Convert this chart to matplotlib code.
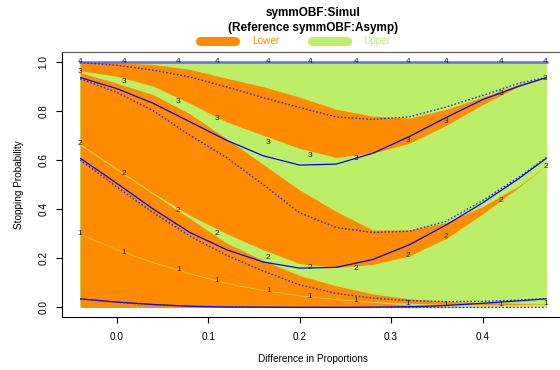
import matplotlib
matplotlib.use("Agg")
import matplotlib.pyplot as plt
from matplotlib.lines import Line2D

plt.rcParams['font.family'] = ['Liberation Sans', 'DejaVu Sans']

# ---- data -------------------------------------------------------------
xs = [-0.04, 0.0, 0.04, 0.08, 0.12, 0.16, 0.20, 0.24, 0.28, 0.32, 0.36, 0.40, 0.44, 0.47]

# design symmOBF:Simul  (b_k = cum_{k-1} + lower_k ; c_k = cumulative stop prob)
s_b1 = [0.298, 0.235, 0.183, 0.138, 0.098, 0.070, 0.048, 0.033, 0.021, 0.010, 0.004, 0.002, 0.001, 0.000]
s_c1 = [0.300, 0.237, 0.185, 0.140, 0.100, 0.072, 0.050, 0.035, 0.024, 0.017, 0.012, 0.011, 0.012, 0.015]
s_b2 = [0.661, 0.561, 0.461, 0.362, 0.262, 0.192, 0.130, 0.088, 0.055, 0.035, 0.025, 0.020, 0.017, 0.016]
s_c2 = [0.665, 0.565, 0.465, 0.375, 0.300, 0.235, 0.178, 0.163, 0.175, 0.210, 0.280, 0.380, 0.490, 0.578]
s_b3 = [0.955, 0.912, 0.865, 0.787, 0.687, 0.582, 0.478, 0.390, 0.315, 0.315, 0.345, 0.410, 0.495, 0.578]
s_c3 = [0.963, 0.940, 0.900, 0.830, 0.755, 0.700, 0.647, 0.610, 0.627, 0.668, 0.740, 0.825, 0.900, 0.933]
s_b4 = [0.998, 0.995, 0.988, 0.968, 0.932, 0.898, 0.855, 0.806, 0.778, 0.770, 0.805, 0.855, 0.908, 0.933]
s_c4 = [1.0] * 14

# reference symmOBF:Asymp
a_b1 = [0.034, 0.021, 0.011, 0.005, 0.002, 0.001, 0.0005, 0.0003, 0.0002, 0.0001, 0.0, 0.0, 0.0, 0.0]
a_c1 = [0.035, 0.022, 0.012, 0.005, 0.002, 0.001, 0.0005, 0.0005, 0.001, 0.003, 0.008, 0.017, 0.027, 0.035]
a_b2 = [0.600, 0.490, 0.385, 0.290, 0.213, 0.148, 0.092, 0.057, 0.038, 0.028, 0.024, 0.025, 0.030, 0.036]
a_c2 = [0.607, 0.505, 0.400, 0.305, 0.235, 0.185, 0.160, 0.163, 0.195, 0.255, 0.335, 0.425, 0.525, 0.607]
a_b3 = [0.930, 0.875, 0.800, 0.700, 0.610, 0.500, 0.385, 0.325, 0.305, 0.310, 0.350, 0.435, 0.530, 0.610]
a_c3 = [0.935, 0.890, 0.830, 0.755, 0.680, 0.617, 0.579, 0.583, 0.627, 0.695, 0.772, 0.845, 0.900, 0.935]
a_b4 = [0.996, 0.985, 0.965, 0.937, 0.897, 0.853, 0.813, 0.775, 0.765, 0.775, 0.815, 0.862, 0.912, 0.935]
a_c4 = [1.0] * 14

# analysis-number labels
lab_x = [-0.0405, 0.0080, 0.0673, 0.1094, 0.1658, 0.2112, 0.2615, 0.3184, 0.3600, 0.4201, 0.4688]
lab1 = [0.301, 0.2255, 0.153, 0.108, 0.069, 0.045, 0.028, 0.018, 0.011, 0.011, 0.015]
lab2 = [0.668, 0.544, 0.396, 0.301, 0.205, 0.163, 0.159, 0.213, 0.290, 0.436, 0.574]
lab3 = [0.960, 0.919, 0.838, 0.767, 0.670, 0.617, 0.607, 0.679, 0.756, 0.870, 0.933]
lab4 = [1.0] * 11

x_ticks = [0.0, 0.1, 0.2, 0.3, 0.4]
y_ticks = [0.0, 0.2, 0.4, 0.6, 0.8, 1.0]

ORANGE = '#FF8C00'
GREEN = '#BCEE68'
BLUE = '#0000FF'

# ---- figure -------------------------------------------------------------
W, H = 560, 370
fig = plt.figure(figsize=(W / 100, H / 100), dpi=100)
left, right, top, bottom = 61.5, 565.2, 51.7, 317.3
ax = fig.add_axes([left / W, 1 - bottom / H, (right - left) / W, (bottom - top) / H])

zero = [0.0] * len(xs)
# upper (green) everywhere, lower (orange) bands on top
ax.fill_between(xs, zero, s_c4, color=GREEN, lw=0)
for lo, hi in [(zero, s_b1), (s_c1, s_b2), (s_c2, s_b3), (s_c3, s_b4)]:
    ax.fill_between(xs, lo, hi, color=ORANGE, lw=0)

# reference lines
for c in [a_c1, a_c2, a_c3]:
    ax.plot(xs, c, color=BLUE, lw=0.9, solid_capstyle='butt')
ax.plot(xs, a_c4, color='#6a6ae6', lw=1.8)
for b in [a_b1, a_b2, a_b3, a_b4]:
    ax.plot(xs, b, color='#2020ff', lw=1.0, linestyle=(0, (1.1, 1.5)))

for k, lab in enumerate([lab1, lab2, lab3, lab4], start=1):
    for x, y in zip(lab_x, lab):
        ax.text(x, y, str(k), ha='center', va='center', fontsize=6, color='#222222')

ax.set_xlim(-0.0604, 0.4904)
ax.set_ylim(-0.04, 1.04)
ax.set_xticks(x_ticks)
ax.set_xticklabels([f'{v:.1f}' for v in x_ticks])
ax.set_yticks(y_ticks)
ax.set_yticklabels([f'{v:.1f}' for v in y_ticks], rotation=90, va='center')
ax.tick_params(direction='out', length=4.3, width=0.8, labelsize=7.2, colors='black')
ax.tick_params(axis='x', pad=6)
ax.tick_params(axis='y', pad=5)
for sp in ax.spines.values():
    sp.set_linewidth(0.8)
    sp.set_color('black')
ax.spines['top'].set_color('#555555')

cx = (left + right) / 2 / W
fig.text(cx, 1 - 16 / H, 'symmOBF:Simul', ha='center', va='baseline',
         fontsize=8.5, fontweight='bold')
fig.text(cx, 1 - 30.5 / H, '(Reference symmOBF:Asymp)', ha='center', va='baseline',
         fontsize=8.5, fontweight='bold')

# legend in top margin
ly = 1 - 40.5 / H
fig.add_artist(Line2D([200 / W, 235 / W], [ly, ly], color=ORANGE, lw=6.5,
                      solid_capstyle='round'))
fig.text(265.5 / W, ly, 'Lower', color=ORANGE, fontsize=7.2, ha='center', va='center')
fig.add_artist(Line2D([312 / W, 347 / W], [ly, ly], color=GREEN, lw=6.5,
                      solid_capstyle='round'))
fig.text(377 / W, ly, 'Upper', color=GREEN, fontsize=7.2, ha='center', va='center')

fig.text(cx, 1 - 359 / H, 'Difference in Proportions', ha='center', va='center', fontsize=7.2)
fig.text(19 / W, 1 - 184.5 / H, 'Stopping Probability', ha='center', va='center',
         rotation=90, fontsize=7.2)

fig.savefig('out.png', dpi=100)
